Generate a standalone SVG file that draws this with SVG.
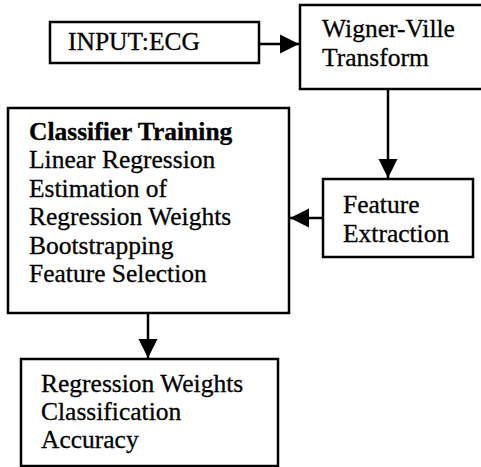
<svg xmlns="http://www.w3.org/2000/svg" width="481" height="467" viewBox="0 0 481 467">
<style>
  .box { fill: #ffffff; stroke: #000000; stroke-width: 2.5; }
  .t { font-family: "Liberation Serif", "Times New Roman", serif; font-size: 25.5px; fill: #000000; stroke: #000000; stroke-width: 0.3; }
  .b { font-weight: bold; }
  .conn { fill: none; stroke: #000000; stroke-width: 2.5; }
</style>
<defs>
  <marker id="arrow" markerUnits="userSpaceOnUse" markerWidth="20" markerHeight="20" refX="19" refY="9.5" orient="auto" viewBox="0 0 20 19">
    <path d="M0,0 L19,9.5 L0,19 z" fill="#000000"/>
  </marker>
</defs>
<rect width="481" height="467" fill="#ffffff"/>
<g id="input">
  <rect class="box" x="50" y="22" width="209" height="41"/>
  <text class="t" x="68" y="50">INPUT:ECG</text>
</g>
<g id="wigner">
  <rect class="box" x="300" y="5" width="185" height="84"/>
  <text class="t" x="322" y="37">Wigner-Ville</text>
  <text class="t" x="322" y="66">Transform</text>
</g>
<g id="feature">
  <rect class="box" x="323" y="179" width="150" height="78"/>
  <text class="t" x="343" y="213">Feature</text>
  <text class="t" x="343" y="242">Extraction</text>
</g>
<g id="classifier">
  <rect class="box" x="8" y="108" width="281" height="205"/>
  <text class="t b" x="29" y="140">Classifier Training</text>
  <text class="t" x="29" y="168">Linear Regression</text>
  <text class="t" x="29" y="196.5">Estimation of</text>
  <text class="t" x="29" y="225">Regression Weights</text>
  <text class="t" x="29" y="253.5">Bootstrapping</text>
  <text class="t" x="29" y="282">Feature Selection</text>
</g>
<g id="results">
  <rect class="box" x="21" y="359" width="257" height="107"/>
  <text class="t" x="41" y="392">Regression Weights</text>
  <text class="t" x="41" y="420">Classification</text>
  <text class="t" x="41" y="448">Accuracy</text>
</g>
<g id="connectors">
  <path class="conn" d="M259,44 L299,44" marker-end="url(#arrow)"/>
  <path class="conn" d="M388,89 L388,178" marker-end="url(#arrow)"/>
  <path class="conn" d="M322,218 L290,218" marker-end="url(#arrow)"/>
  <path class="conn" d="M148,313 L148,358" marker-end="url(#arrow)"/>
</g>
</svg>
